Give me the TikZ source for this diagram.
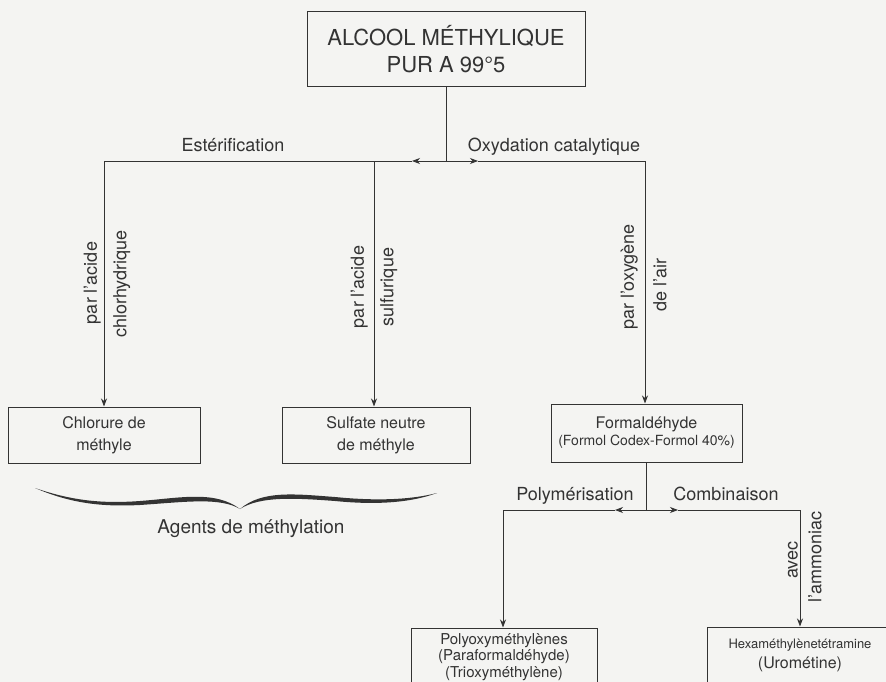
\documentclass[tikz,border=0pt]{standalone}
\usepackage{fontspec}
\setmainfont{TeX Gyre Heros}
\usetikzlibrary{arrows.meta}
\definecolor{ink}{HTML}{333333}
\definecolor{paper}{HTML}{F4F4F2}
\begin{document}
\begin{tikzpicture}[x=1pt,y=-1pt,
  box/.style={draw=ink, line width=1pt, inner sep=0pt, align=center, text=ink},
  ln/.style={draw=ink, line width=0.9pt},
  arr/.style={ln, -{Stealth[length=8pt,width=6pt,inset=2.5pt]}},
  lab/.style={inner sep=0pt, text=ink, font=\fontsize{18}{21}\selectfont, anchor=base},
  vlab/.style={inner sep=0pt, text=ink, font=\fontsize{18}{21}\selectfont, rotate=90}
]
\clip (0,0) rectangle (886,682);
\fill[paper] (0,0) rectangle (886,682);

% boxes
\node[box, minimum width=278pt, minimum height=75pt, font=\fontsize{22}{27}\selectfont] (alc) at (446,49.5) {ALCOOL MÉTHYLIQUE\\PUR A 99°5};
\node[box, minimum width=192pt, minimum height=56pt, font=\fontsize{16}{22}\selectfont] (chl) at (104,435) {Chlorure de\\méthyle};
\node[box, minimum width=188pt, minimum height=56pt, font=\fontsize{16}{22}\selectfont] (sul) at (376,435) {Sulfate neutre\\de méthyle};
\node[box, minimum width=191pt, minimum height=58pt, font=\fontsize{16}{17}\selectfont] (frm) at (646.5,433) {Formaldéhyde\\{\fontsize{14}{16}\selectfont (Formol Codex-Formol 40\%)}};
\node[box, minimum width=186pt, minimum height=58pt, font=\fontsize{15}{16.5}\selectfont] (pol) at (504,657) {Polyoxyméthylènes\\(Paraformaldéhyde)\\(Trioxyméthylène)};
\node[box, minimum width=186pt, minimum height=57pt, font=\fontsize{13}{20}\selectfont] (hex) at (800,655.5) {Hexaméthylènetétramine\\{\fontsize{16}{20}\selectfont (Urométine)}};

% upper connectors
\coordinate (j1) at (446,161);
\coordinate (tl) at (412,161);
\coordinate (tr) at (478,161);
\coordinate (c1) at (104,161);
\coordinate (c2) at (374,161);
\coordinate (c3) at (645,161);
\draw[ln] (alc.south) -- (j1);
\draw[arr] (j1) -- (tl);
\draw[ln] (tl) -- (c1);
\draw[arr] (c1) -- (chl.north);
\draw[arr] (c2) -- (c2 |- sul.north);
\draw[arr] (j1) -- (tr);
\draw[ln] (tr) -- (c3);
\draw[arr] (c3) -- (c3 |- frm.north);

% lower connectors
\coordinate (j2) at (646.5,510);
\coordinate (bl) at (615,510);
\coordinate (br) at (678,510);
\coordinate (d1) at (503,510);
\coordinate (d2) at (800,510);
\draw[ln] (frm.south) -- (j2);
\draw[arr] (j2) -- (bl);
\draw[ln] (bl) -- (d1);
\draw[arr] (d1) -- (d1 |- pol.north);
\draw[arr] (j2) -- (br);
\draw[ln] (br) -- (d2);
\draw[arr] (d2) -- (d2 |- hex.north);

% horizontal labels
\node[lab] (lest) at (233,152) {Estérification};
\node[lab] (loxy) at (554,151) {Oxydation catalytique};
\node[lab] (lpol) at (575,500) {Polymérisation};
\node[lab] (lcom) at (726,500) {Combinaison};
\node[lab, font=\fontsize{19}{22}\selectfont] (lagt) at (251,533) {Agents de méthylation};

% vertical labels
\node[vlab, anchor=south] (v1a) at (101,283) {par l'acide};
\node[vlab, anchor=north] (v1b) at (113,284) {chlorhydrique};
\node[vlab, anchor=south] (v2a) at (368,287) {par l'acide};
\node[vlab, anchor=north] (v2b) at (380,287) {sulfurique};
\node[vlab, anchor=south] (v3a) at (638,277) {par l'oxygène};
\node[vlab, anchor=north] (v3b) at (653,285) {de l'air};
\node[vlab, anchor=south] (v4a) at (798,560) {avec};
\node[vlab, anchor=north] (v4b) at (808,557) {l'ammoniac};

% brace
\fill[ink] (35,488) .. controls (70,500) and (100,504) .. (140,501)
  .. controls (180,498) and (215,490) .. (240,509)
  .. controls (262,490) and (295,494) .. (335,497)
  .. controls (375,501) and (410,500) .. (437,493)
  .. controls (410,503) and (375,505) .. (335,501)
  .. controls (295,498) and (260,496) .. (240,509)
  .. controls (220,497) and (185,502) .. (140,505)
  .. controls (100,507) and (70,503) .. (35,488) -- cycle;
\end{tikzpicture}
\end{document}
